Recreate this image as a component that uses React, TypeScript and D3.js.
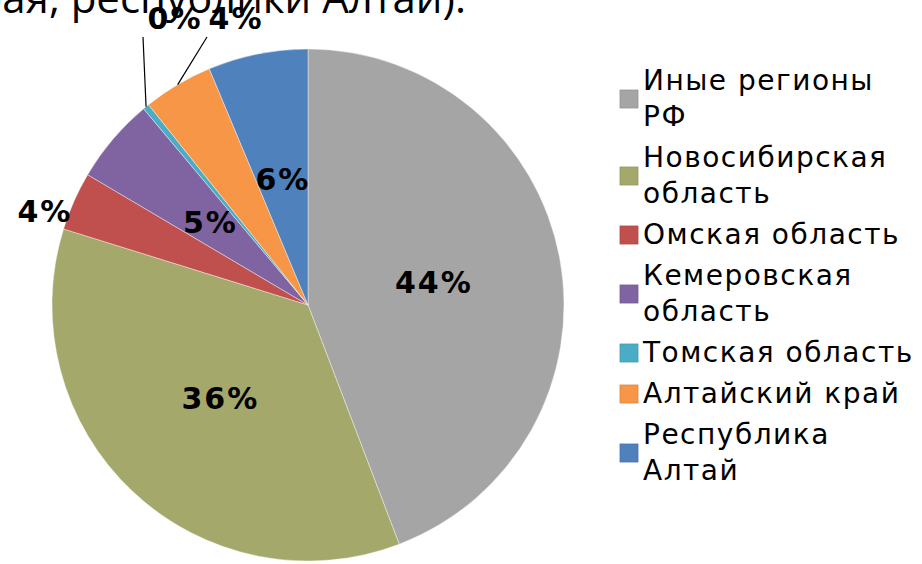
import React, { useRef, useEffect } from 'react';
import * as d3 from 'd3';

// shares of the regions (percent)
const regions = [
  'Иные регионы РФ',
  'Новосибирская область',
  'Омская область',
  'Кемеровская область',
  'Томская область',
  'Алтайский край',
  'Республика Алтай',
];
const shares = [44.2, 35.6, 3.7, 5.4, 0.4, 4.4, 6.3];
const colors = ['#a5a5a5', '#a4a86a', '#c0504d', '#8064a2', '#4bacc6', '#f79646', '#4f81bd'];
// legend lines (wrapped as in the original)
const legendLines = [
  ['Иные регионы', 'РФ'],
  ['Новосибирская', 'область'],
  ['Омская область'],
  ['Кемеровская', 'область'],
  ['Томская область'],
  ['Алтайский край'],
  ['Республика', 'Алтай'],
];
const titleTail = 'края, республики Алтай).';

const W = 922;
const H = 564;

const App: React.FC = () => {
  const ref = useRef<SVGSVGElement>(null);

  useEffect(() => {
    const svg = d3.select(ref.current);
    svg.selectAll('*').remove();

    const cx = 308;
    const cy = 305;
    const r = 256;
    const font = 'DejaVu Sans, Verdana, sans-serif';

    // title, cut off by the top of the picture
    svg
      .append('text')
      .attr('x', 466)
      .attr('y', 13)
      .attr('text-anchor', 'end')
      .attr('font-family', 'Open Sans, sans-serif')
      .attr('font-size', 42)
      .attr('fill', '#000')
      .text(titleTail);

    const total = d3.sum(shares);
    const pie = d3
      .pie<number>()
      .sort(null)
      .value((d) => d);
    const arcs = pie(shares);
    const arc = d3.arc<d3.PieArcDatum<number>>().innerRadius(0).outerRadius(r);

    const g = svg.append('g').attr('transform', `translate(${cx},${cy})`);

    g.selectAll('path')
      .data(arcs)
      .join('path')
      .attr('d', arc)
      .attr('fill', (_, i) => colors[i])
      .attr('stroke', '#ffffff')
      .attr('stroke-opacity', 0.5)
      .attr('stroke-width', 0.8);

    const pct = (v: number) => `${Math.round((v / total) * 100)}%`;
    const mid = (a: d3.PieArcDatum<number>) => (a.startAngle + a.endAngle) / 2;
    const polar = (ang: number, rad: number): [number, number] => [
      Math.sin(ang) * rad,
      -Math.cos(ang) * rad,
    ];

    const labelG = g
      .append('g')
      .attr('font-family', font)
      .attr('font-weight', 'bold')
      .attr('font-size', 30)
      .attr('letter-spacing', 2)
      .attr('fill', '#000');

    // inside labels at the centroid
    const inside = [0, 1, 3, 6];
    inside.forEach((i) => {
      const [x, y] = arc.centroid(arcs[i]);
      labelG
        .append('text')
        .attr('x', x)
        .attr('y', y)
        .attr('dy', '0.36em')
        .attr('text-anchor', 'middle')
        .text(pct(shares[i]));
    });

    // Omsk: outside, touching the rim
    {
      const [x, y] = polar(mid(arcs[2]), r * 1.02);
      labelG
        .append('text')
        .attr('x', x + 3)
        .attr('y', y + 23)
        .attr('text-anchor', 'end')
        .text(pct(shares[2]));
    }

    // Tomsk and Altai krai: labels above the pie with leader lines
    const rowY = 29 - cy;
    const topRow = [
      { i: 4, tx: 175 - cx, lx: 143 - cx },
      { i: 5, tx: 236 - cx, lx: 207 - cx },
    ];
    topRow.forEach((t) => {
      const [ex, ey] = polar(mid(arcs[t.i]), r);
      g.append('line')
        .attr('x1', ex)
        .attr('y1', ey)
        .attr('x2', t.lx)
        .attr('y2', rowY + 8)
        .attr('stroke', '#000')
        .attr('stroke-width', 1.2);
      labelG
        .append('text')
        .attr('x', t.tx)
        .attr('y', rowY)
        .attr('text-anchor', 'middle')
        .text(pct(shares[t.i]));
    });

    // legend
    const legend = svg
      .append('g')
      .attr('font-family', font)
      .attr('font-size', 28)
      .attr('letter-spacing', 1.5)
      .attr('fill', '#000');
    const lineH = 36;
    const gap = 5;
    let top = 80;
    legendLines.forEach((lines, i) => {
      const item = legend.append('g').attr('aria-label', regions[i]);
      lines.forEach((ln, j) => {
        item
          .append('text')
          .attr('x', 643)
          .attr('y', top + j * lineH)
          .attr('dy', '0.36em')
          .text(ln);
      });
      const c = top + ((lines.length - 1) * lineH) / 2;
      item
        .append('rect')
        .attr('x', 620)
        .attr('y', c + 1 - 9)
        .attr('width', 18)
        .attr('height', 18)
        .attr('fill', colors[i])
        .attr('stroke', d3.color(colors[i])!.darker(0.3).toString())
        .attr('stroke-width', 0.8);
      top += lines.length * lineH + gap;
    });
  }, []);

  return (
    <svg
      ref={ref}
      width={W}
      height={H}
      style={{ position: 'absolute', left: 0, top: 0, background: '#fff' }}
    />
  );
};

export default App;
